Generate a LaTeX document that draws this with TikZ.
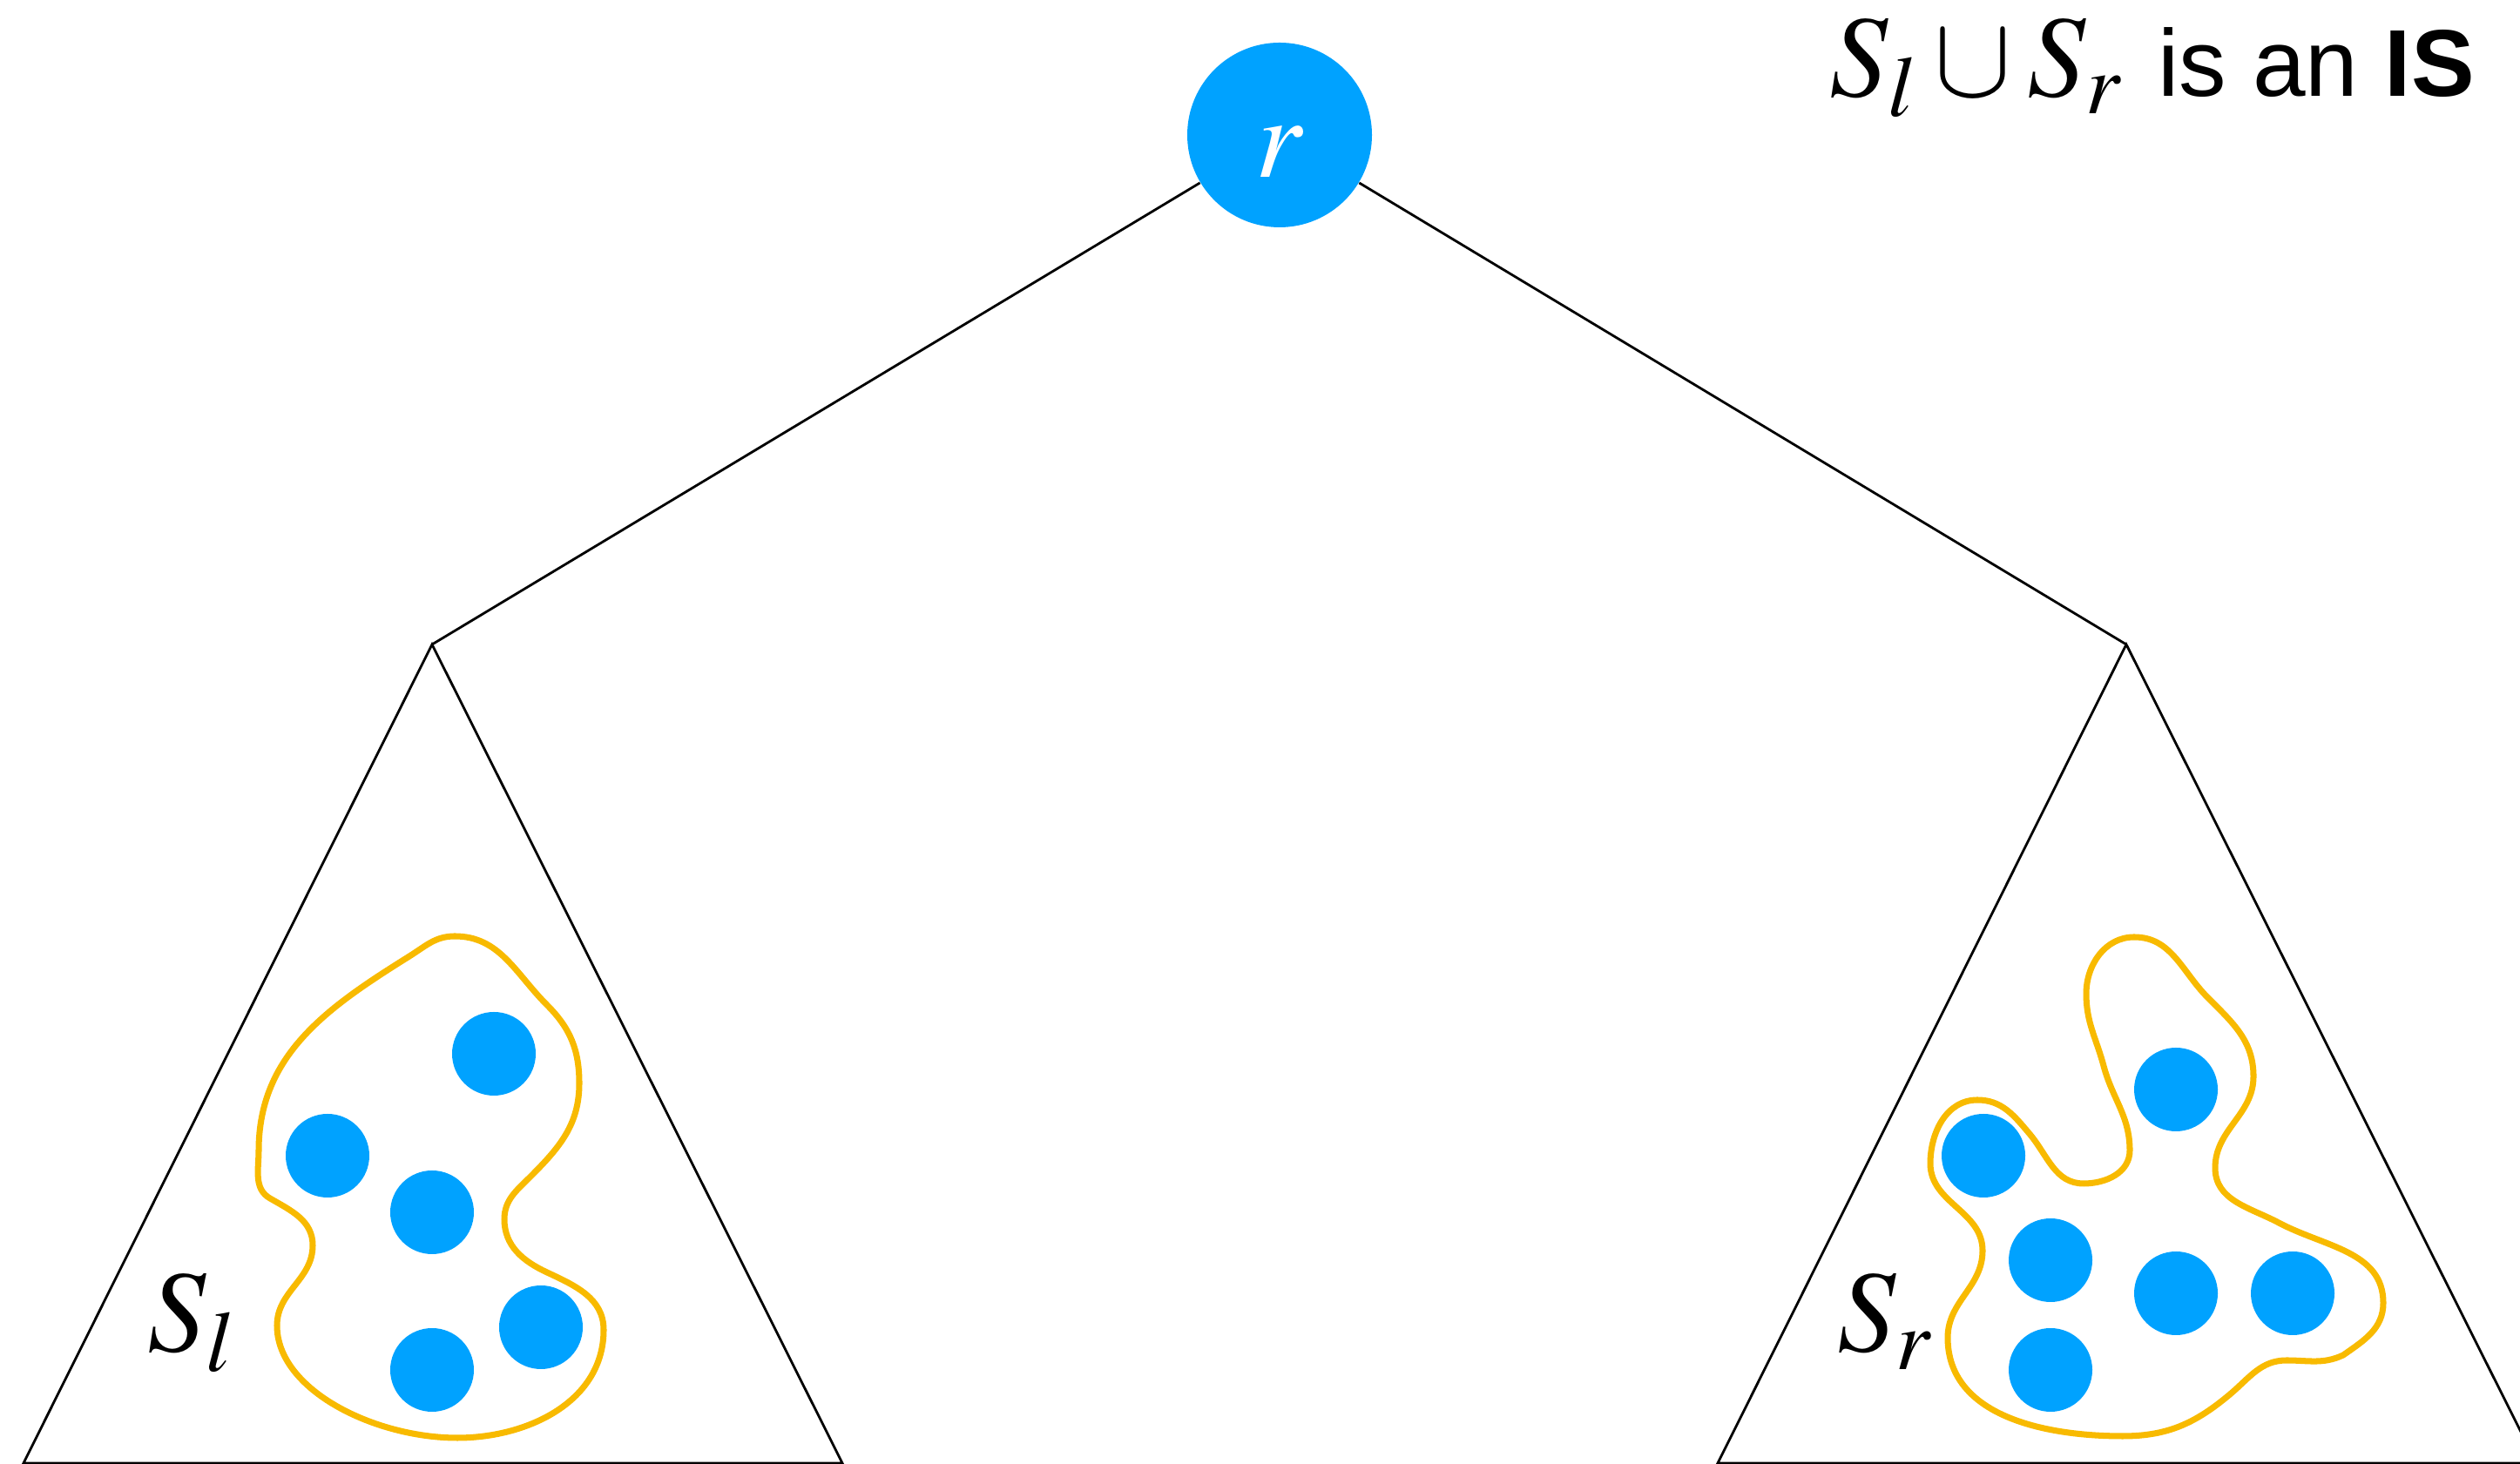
\documentclass[tikz,border=0pt]{standalone}
\usepackage{mathptmx}
\usepackage[no-math]{fontspec}
\usepackage{tikz}

\newfontfamily\helv{Liberation Sans}
\newcommand{\bigmath}{\fontsize{38}{44}\selectfont}
\definecolor{dotblue}{RGB}{0,162,255}
\definecolor{setorange}{RGB}{248,186,0}

\begin{document}
\begin{tikzpicture}[
    vertex/.style={circle, fill=dotblue, inner sep=0pt, minimum size=0.96cm},
    treeline/.style={line width=0.8pt, line join=miter},
    setline/.style={draw=setorange, line width=2pt, line join=round, line cap=round}]
  \useasboundingbox (0,0) rectangle (28.93,16.81);
  \clip (0,0) rectangle (28.93,16.81);

  % root and the two subtrees below it
  \node[vertex, minimum size=2.12cm,
        label={[text=white, font=\bigmath, yshift=-0.2cm]center:$r$}] (root) at (14.69,15.26) {};
  \coordinate (lapex) at (4.96,9.41);
  \coordinate (rapex) at (24.41,9.41);
  \draw[treeline] (root) -- (lapex);
  \draw[treeline] (root) -- (rapex);
  \draw[treeline] (lapex) -- (0.27,0.01) -- (9.67,0.01) -- cycle;
  \draw[treeline] (rapex) -- (19.72,0.01) -- (29.12,0.01) -- cycle;

  % left set
  \draw[setline] (5.22,6.06) to[out=0,in=135] (6.28,5.27)
    to[out=-45,in=90] (6.65,4.37) to[out=-90,in=45] (6.09,3.30)
    to[out=-135,in=90] (5.79,2.81) to[out=-90,in=155] (6.28,2.20)
    to[out=-25,in=90] (6.93,1.54) to[out=-90,in=0] (5.25,0.30)
    .. controls (4.30,0.30) and (3.18,0.85) .. (3.18,1.59)
    to[out=90,in=-90] (3.59,2.51) to[out=90,in=-30] (3.10,3.05)
    to[out=150,in=-90] (2.97,3.60) to[out=90,in=-148] (4.70,5.83)
    to[out=32,in=180] (5.22,6.06);
  \node[vertex] (l1) at (5.67,4.71) {};
  \node[vertex] (l2) at (3.76,3.54) {};
  \node[vertex] (l3) at (4.96,2.89) {};
  \node[vertex] (l4) at (6.21,1.57) {};
  \node[vertex] (l5) at (4.96,1.08) {};
  \node[anchor=base west, inner sep=0pt, font=\bigmath] (sl) at (1.69,1.29) {$S_l$};

  % right set
  \draw[setline] (24.50,6.05) to[out=0,in=135] (25.35,5.35)
    to[out=-45,in=90] (25.87,4.45) to[out=-90,in=90] (25.43,3.40)
    to[out=-90,in=152] (26.16,2.77) to[out=-28,in=90] (27.36,1.85)
    to[out=-90,in=35] (26.90,1.25) to[out=-155,in=0] (26.25,1.19)
    to[out=180,in=40] (25.60,0.80) to[out=-140,in=0] (24.37,0.32)
    to[out=180,in=-90] (22.36,1.45) to[out=90,in=-90] (22.76,2.45)
    to[out=90,in=-90] (22.16,3.45) to[out=90,in=180] (22.70,4.18)
    to[out=0,in=130] (23.30,3.79) to[out=-50,in=180] (23.92,3.22)
    to[out=0,in=-90] (24.45,3.60) to[out=90,in=-75] (24.15,4.57)
    to[out=105,in=-90] (23.95,5.40) to[out=90,in=180] (24.50,6.05);
  \node[vertex] (r1) at (24.98,4.30) {};
  \node[vertex] (r2) at (22.77,3.54) {};
  \node[vertex] (r3) at (23.54,2.34) {};
  \node[vertex] (r4) at (24.98,1.96) {};
  \node[vertex] (r5) at (26.32,1.96) {};
  \node[vertex] (r6) at (23.54,1.08) {};
  \node[anchor=base west, inner sep=0pt, font=\bigmath] (sr) at (21.09,1.29) {$S_r$};

  \node[anchor=base west, inner sep=0pt, font=\bigmath] (claim) at (21.00,15.70)
    {$S_l \cup S_r$ {\helv\fontsize{31}{37}\selectfont is an \textbf{IS}}};
\end{tikzpicture}
\end{document}
